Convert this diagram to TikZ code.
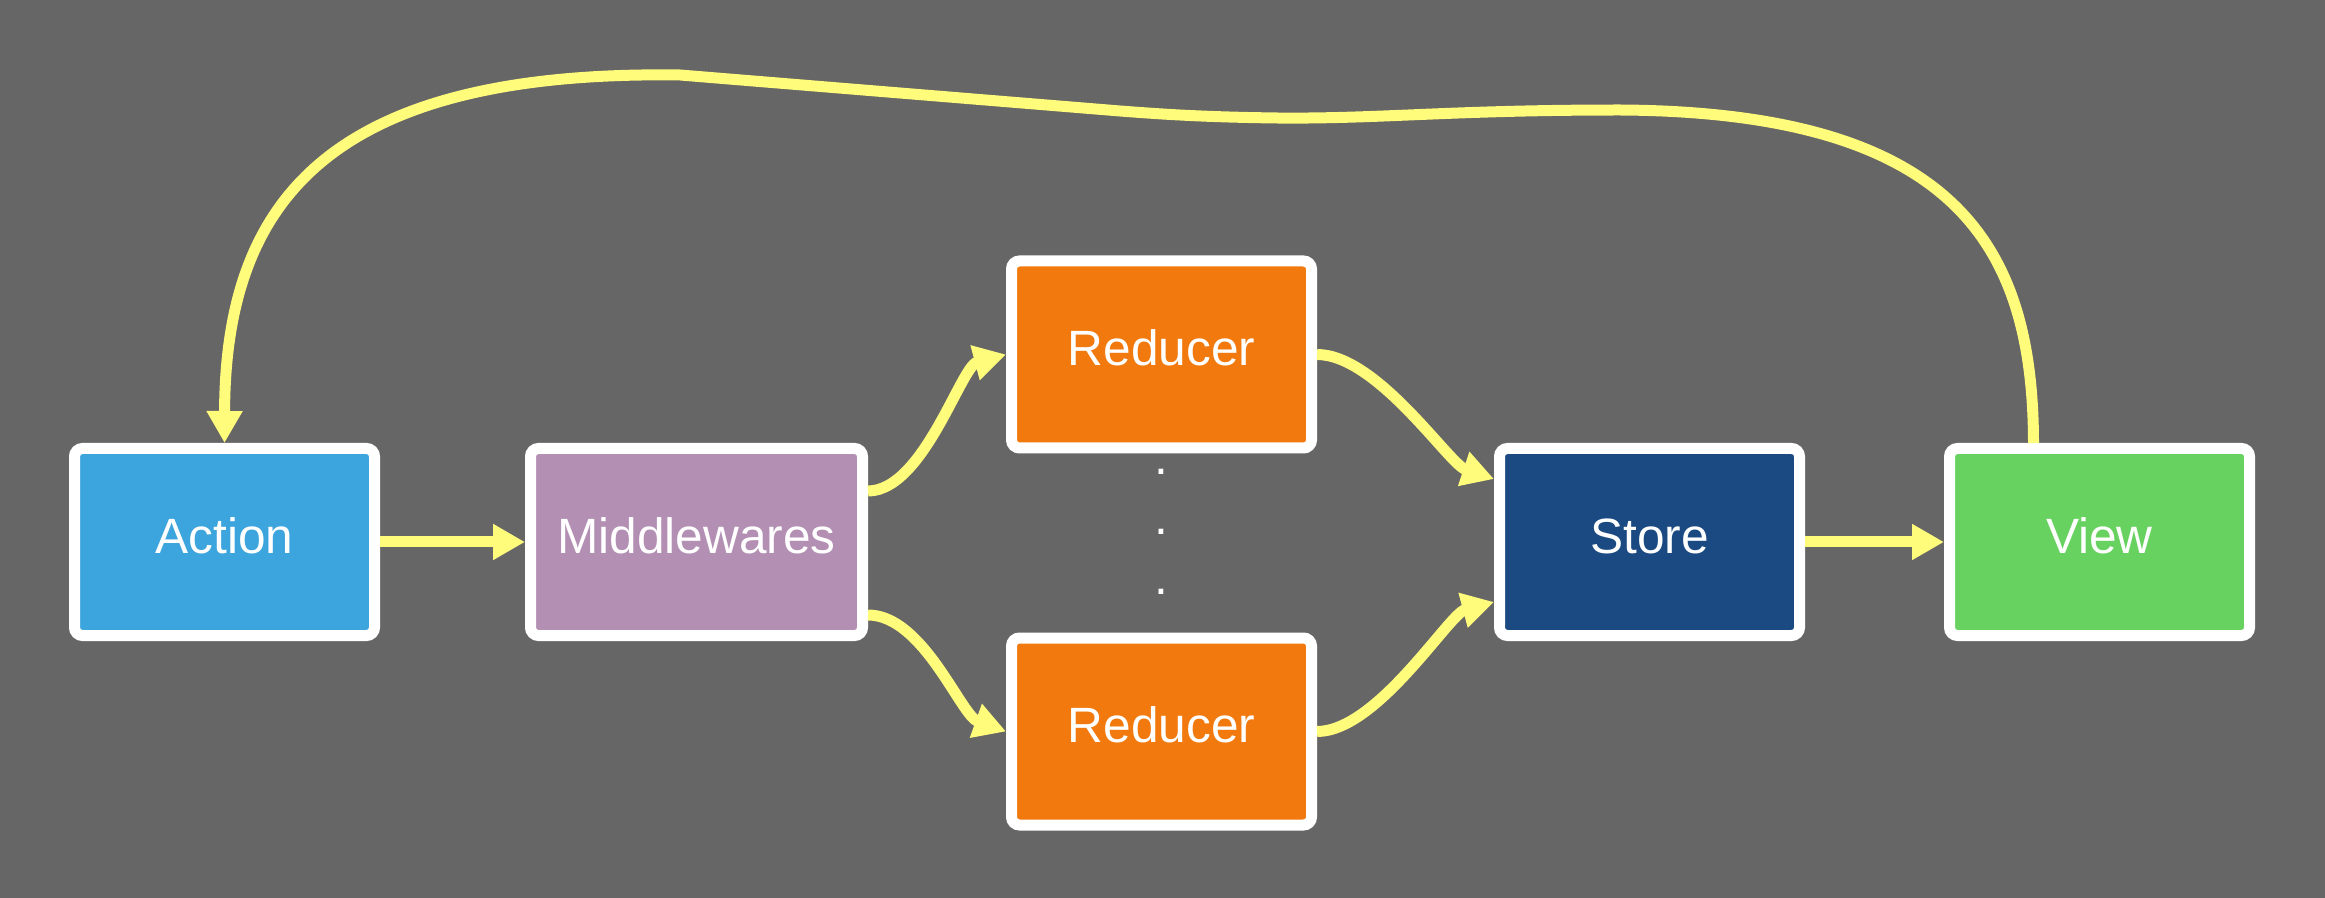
\documentclass[tikz,border=0pt]{standalone}
\usepackage{fontspec}
\setmainfont{Liberation Sans}
\usetikzlibrary{arrows.meta,positioning}
\definecolor{Canvas}{HTML}{666666}
\definecolor{ActionBlue}{HTML}{3DA5DD}
\definecolor{MidMauve}{HTML}{B38FB3}
\definecolor{RedOrange}{HTML}{F1790D}
\definecolor{StoreNavy}{HTML}{1B4A82}
\definecolor{ViewGreen}{HTML}{68D260}
\definecolor{Flow}{HTML}{FFFB7B}

\begin{document}
\begin{tikzpicture}[
        x=0.5pt, y=-0.5pt,
        every node/.style={font=\fontsize{24.8pt}{30pt}\selectfont},
        box/.style={draw=white, line width=5.5pt, rounded corners=4pt, align=center, minimum height=93.5pt, minimum width=150pt, text=white, text height=18pt, text depth=7pt},
        dots/.style={text=white, align=center, inner sep=0pt},
        flow/.style={-{Triangle[length=16pt,width=17pt]}, line width=5.5pt, draw=Flow}
    ]
        \fill[Canvas] (0,0) rectangle (2325,898);

        \node[box, fill=ActionBlue] (act) at (224.5,542) {Action};
        \node[box, fill=MidMauve, minimum width=166pt, right=72.5pt of act] (mid) {Middlewares};
        \node[box, fill=RedOrange, right=69pt of mid, yshift=93.75pt] (red1) {Reducer};
        \node[box, fill=RedOrange, below=89.5pt of red1] (red2) {Reducer};
        \node[dots, below=7.75pt of red1] (more) {.\\.\\.};
        \node[box, fill=StoreNavy, right=88.5pt of red1, yshift=-93.75pt] (store) {Store};
        \node[box, fill=ViewGreen, right=69.5pt of store] (view) {View};

        \draw[flow] (act) -- (mid);
        \draw[flow] ([yshift=25.5pt]mid.east) .. controls +(55,0) and +(-45,12) .. (red1.west);
        \draw[flow] ([yshift=-36.5pt]mid.east) .. controls +(55,0) and +(-45,-16) .. (red2.west);
        \draw[flow] (red1.east) .. controls +(60,0) and +(-45,-15) .. ([yshift=31.5pt]store.west);
        \draw[flow] (red2.east) .. controls +(60,0) and +(-45,12) .. ([yshift=-30pt]store.west);
        \draw[flow] (store) -- (view);
        \draw[flow] ([xshift=-33pt]view.north) .. controls (2033,250) and (1960,112) .. (1620,110)
            .. controls (1450,110) and (1380,119) .. (1277,118)
            .. controls (1200,117) and (1160,114) .. (1120,111)
            -- (680,75) .. controls (330,70) and (225,200) .. (act.north);
    \end{tikzpicture}
\end{document}
